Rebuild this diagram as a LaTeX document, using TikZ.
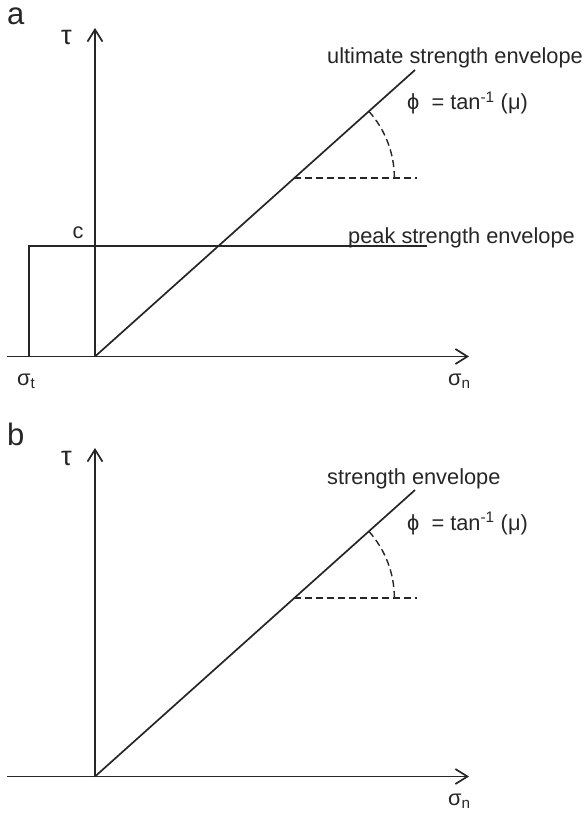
\documentclass[tikz,border=0pt]{standalone}
\usepackage{fontspec}
\setmainfont{Liberation Sans}
\usetikzlibrary{arrows.meta, positioning, calc}

\begin{document}
\begin{tikzpicture}[
  x=1pt, y=-1pt,
  axis/.style={line width=1.7pt, draw=black!85, -{Straight Barb[length=12pt, width=15pt, line width=1.7pt]}},
  line/.style={line width=1.7pt, draw=black!85},
  guide/.style={line width=1.4pt, draw=black!85, dash pattern=on 7pt off 4pt},
  txt/.style={inner sep=0pt, font=\fontsize{21.8}{26}\selectfont, text=black!85},
  big/.style={inner sep=0pt, font=\fontsize{27}{32}\selectfont, text=black!85},
  panel/.style={inner sep=0pt, font=\fontsize{31}{36}\selectfont, text=black!85}
]
  \useasboundingbox (0,0) rectangle (584,813);

  % a: with tensile cut-off
  \coordinate (o1) at (95,356.5);
  \coordinate (xs1) at (7,356.5);
  \coordinate (xe1) at (469,356.5);
  \coordinate (ye1) at (95,28);
  \coordinate (e1) at (415,70);
  \coordinate (p1) at ($(o1)!0.623!(e1)$);
  \coordinate (h1) at (417,178);
  \coordinate (t1) at (29,356.5);
  \coordinate (k1) at (427,246);

  \draw[axis] (xs1) -- (xe1);
  \draw[axis] (o1) -- (ye1);
  \draw[line] (o1) -- (e1);
  \draw[line] (t1) |- (k1);
  \draw[guide] (p1) -- (h1 |- p1);
  \draw[guide] ($(p1)+(100,0)$) arc[start angle=0, end angle=-41.8, radius=100];

  \node[panel, anchor=base west] (a) at (7,25) {a};
  \node[big, anchor=base west] (tau1) at (61,45) {τ};
  \node[txt, anchor=base west] (ult) at (327,64) {ultimate strength envelope};
  \node[txt, anchor=base west] (phi1) at (407,110) {ϕ\ \ = tan\textsuperscript{-1} (μ)};
  \node[txt, anchor=base west] (peak) at (348,243) {peak strength envelope};
  \node[txt, anchor=base] (c) at (78,238) {c};
  \node[txt, anchor=base west] (sigt) at (17,385) {σ\textsubscript{t}};
  \node[txt, anchor=base west] (sign1) at (448,385) {σ\textsubscript{n}};

  % b: single envelope
  \begin{scope}[yshift=-420pt]
    \coordinate (o2) at (95,356.5);
    \coordinate (xs2) at (7,356.5);
    \coordinate (xe2) at (469,356.5);
    \coordinate (ye2) at (95,28);
    \coordinate (e2) at (415,70);
    \coordinate (p2) at ($(o2)!0.623!(e2)$);
    \coordinate (h2) at (417,178);

    \draw[axis] (xs2) -- (xe2);
    \draw[axis] (o2) -- (ye2);
    \draw[line] (o2) -- (e2);
    \draw[guide] (p2) -- (h2 |- p2);
    \draw[guide] ($(p2)+(100,0)$) arc[start angle=0, end angle=-41.8, radius=100];

    \node[panel, anchor=base west] (b) at (7,25) {b};
    \node[big, anchor=base west] (tau2) at (61,45) {τ};
    \node[txt, anchor=base west] (env) at (327,64) {strength envelope};
    \node[txt, anchor=base west] (phi2) at (407,110) {ϕ\ \ = tan\textsuperscript{-1} (μ)};
    \node[txt, anchor=base west] (sign2) at (448,385) {σ\textsubscript{n}};
  \end{scope}
\end{tikzpicture}
\end{document}
